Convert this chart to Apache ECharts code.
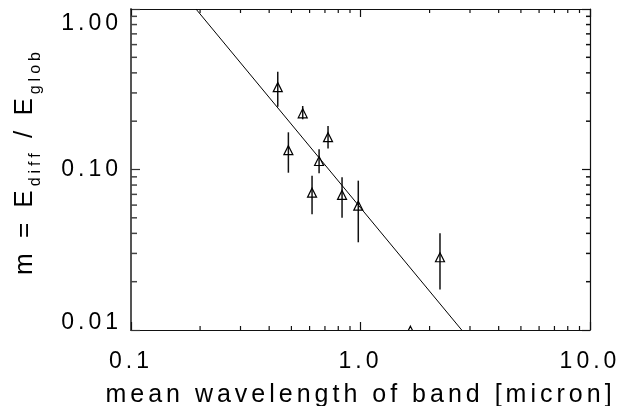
<!DOCTYPE html>
<html>
<head>
<meta charset="utf-8">
<script src="https://cdn.jsdelivr.net/npm/echarts@6/dist/echarts.min.js"></script>
<style>
html,body{margin:0;padding:0;background:#fff;}
#main{width:629px;height:406px;}
</style>
</head>
<body>
<div id="main"></div>
<script>
// ---- data ----
const wavelength = [0.436, 0.560, 0.485, 0.722, 0.660, 0.615, 0.831, 0.978, 2.22, 1.65];
const mValue     = [0.326, 0.224, 0.132, 0.159, 0.113, 0.0717, 0.0694, 0.0595, 0.0284, 0.0099];
const mLow       = [0.246, 0.2055, 0.0955, 0.135, 0.0947, 0.0526, 0.0501, 0.0352, 0.0179, 0.0099];
const mHigh      = [0.406, 0.2486, 0.1705, 0.1866, 0.1336, 0.0915, 0.0894, 0.0852, 0.0400, 0.0099];
const fitX = [0.1919, 2.76];
const fitY = [1.0, 0.01];
const xRange = [0.1, 10];
const yRange = [0.01, 1.0];
const xMinorTicks = [0.2,0.3,0.4,0.5,0.6,0.7,0.8,0.9,2,3,4,5,6,7,8,9];
const yMinorTicks = [0.02,0.03,0.04,0.05,0.06,0.07,0.08,0.09,0.2,0.3,0.4,0.5,0.6,0.7,0.8,0.9];
const xTitle = 'mean wavelength of band [micron]';

// wide tracking like the original plotting font
const LS = 4;
(function(){
  const P = CanvasRenderingContext2D.prototype;
  const f = P.fillText, s = P.strokeText;
  P.fillText = function(){ this.letterSpacing = LS + 'px'; return f.apply(this, arguments); };
  P.strokeText = function(){ this.letterSpacing = LS + 'px'; return s.apply(this, arguments); };
})();

const FONT = 'Liberation Sans';
const chart = echarts.init(document.getElementById('main'), null, {renderer:'canvas'});

function tok(n){ return LS * n / 2; }

const points = wavelength.map((x,i)=>[x, mValue[i], mLow[i], mHigh[i]]);
const fitData = fitX.map((x,i)=>[x, fitY[i]]);
const TRI = 4.5; // half size of the triangle marker

const option = {
  animation: false,
  backgroundColor: '#fff',
  textStyle: {fontFamily: FONT, color: '#000'},
  grid: {left: 131, right: 39, top: 9, bottom: 76, containLabel: false, outerBoundsMode: 'none'},
  xAxis: [
    {
      type: 'log', logBase: 10, min: xRange[0], max: xRange[1],
      position: 'bottom',
      axisLine: {show: true, lineStyle: {color: '#111', width: 1.2}},
      axisTick: {show: true, inside: true, length: 8, lineStyle: {color: '#111', width: 1.2}},
      splitLine: {show: false},
      axisLabel: {
        show: true, margin: 20, fontSize: 23, fontFamily: FONT, color: '#000',
        formatter: v => Number(v).toFixed(1)
      },
      name: xTitle, nameLocation: 'middle', nameGap: 53,
      nameTextStyle: {fontSize: 25, fontFamily: FONT, color: '#000'}
    },
    {
      type: 'log', logBase: 10, min: xRange[0], max: xRange[1],
      position: 'top',
      axisLine: {show: true, lineStyle: {color: '#111', width: 1.2}},
      axisTick: {show: true, inside: true, length: 8, lineStyle: {color: '#111', width: 1.2}},
      splitLine: {show: false},
      axisLabel: {show: false}
    }
  ],
  yAxis: [
    {
      type: 'log', logBase: 10, min: yRange[0], max: yRange[1],
      position: 'left',
      axisLine: {show: true, lineStyle: {color: '#555', width: 2}},
      axisTick: {show: true, inside: true, length: 9, lineStyle: {color: '#333', width: 1.2}},
      splitLine: {show: false},
      axisLabel: {
        show: true, margin: 9, fontSize: 23, fontFamily: FONT, color: '#000',
        formatter: function(v){
          const s = Number(v).toFixed(2);
          if (Math.abs(v - yRange[1]) < 1e-9) return '{hi|' + s + '}';
          if (Math.abs(v - yRange[0]) < 1e-12) return '{lo|' + s + '}';
          return '{md|' + s + '}';
        },
        rich: {
          hi: {fontSize: 23, fontFamily: FONT, padding: [30, 0, 0, 0]},
          lo: {fontSize: 23, fontFamily: FONT, padding: [0, 0, 14, 0]},
          md: {fontSize: 23, fontFamily: FONT}
        }
      },
      name: '{a|m = E}{s|diff}{a2| / E}{s|glob}',
      nameLocation: 'middle', nameRotate: 90, nameGap: 93,
      nameTextStyle: {
        fontSize: 26, fontFamily: FONT, color: '#000', padding: [0, 0, 0, 16],
        rich: {
          a:  {fontSize: 26, lineHeight: 26, fontFamily: FONT, align: 'center', padding: [0, tok(5), 0, tok(5)]},
          a2: {fontSize: 26, lineHeight: 26, fontFamily: FONT, align: 'center', padding: [0, tok(4), 0, tok(4)]},
          s:  {fontSize: 16, lineHeight: 16, fontFamily: FONT, align: 'center', padding: [21, tok(4), 0, tok(4)]}
        }
      }
    },
    {
      type: 'log', logBase: 10, min: yRange[0], max: yRange[1],
      position: 'right',
      axisLine: {show: true, lineStyle: {color: '#111', width: 1.2}},
      axisTick: {show: true, inside: true, length: 8, lineStyle: {color: '#111', width: 1.2}},
      splitLine: {show: false},
      axisLabel: {show: false}
    }
  ],
  series: [
    {
      name: 'xMinor', type: 'custom', xAxisIndex: 0, yAxisIndex: 0, silent: true,
      data: xMinorTicks.map(v => [v, yRange[0]]),
      renderItem: function(params, api){
        const v = api.value(0);
        const b = api.coord([v, yRange[0]]);
        const t = api.coord([v, yRange[1]]);
        const st = {stroke: '#111', lineWidth: 1.2};
        return {type: 'group', children: [
          {type: 'line', shape: {x1: b[0], y1: b[1], x2: b[0], y2: b[1] - 4}, style: st},
          {type: 'line', shape: {x1: t[0], y1: t[1], x2: t[0], y2: t[1] + 4}, style: st}
        ]};
      }
    },
    {
      name: 'yMinor', type: 'custom', xAxisIndex: 0, yAxisIndex: 0, silent: true,
      data: yMinorTicks.map(v => [xRange[0], v]),
      renderItem: function(params, api){
        const v = api.value(1);
        const l = api.coord([xRange[0], v]);
        const r = api.coord([xRange[1], v]);
        return {type: 'group', children: [
          {type: 'line', shape: {x1: l[0], y1: l[1], x2: l[0] + 6, y2: l[1]}, style: {stroke: '#444', lineWidth: 1.5}},
          {type: 'line', shape: {x1: r[0], y1: r[1], x2: r[0] - 4, y2: r[1]}, style: {stroke: '#111', lineWidth: 1.5}}
        ]};
      }
    },
    {
      name: 'fit', type: 'line', xAxisIndex: 0, yAxisIndex: 0,
      data: fitData, symbol: 'none', clip: true,
      lineStyle: {color: '#000', width: 1}
    },
    {
      name: 'm', type: 'custom', xAxisIndex: 0, yAxisIndex: 0, clip: true,
      data: points, encode: {x: 0, y: 1},
      renderItem: function(params, api){
        const x = api.value(0);
        const c = api.coord([x, api.value(1)]);
        const lo = api.coord([x, api.value(2)]);
        const hi = api.coord([x, api.value(3)]);
        return {type: 'group', children: [
          {type: 'line', shape: {x1: lo[0], y1: lo[1], x2: hi[0], y2: hi[1]},
           style: {stroke: '#111', lineWidth: 1.5}},
          {type: 'polygon', shape: {points: [[c[0], c[1] - TRI], [c[0] + TRI, c[1] + TRI], [c[0] - TRI, c[1] + TRI]]},
           style: {fill: 'none', stroke: '#000', lineWidth: 1.2}}
        ]};
      }
    }
  ]
};
chart.setOption(option);
</script>
</body>
</html>
